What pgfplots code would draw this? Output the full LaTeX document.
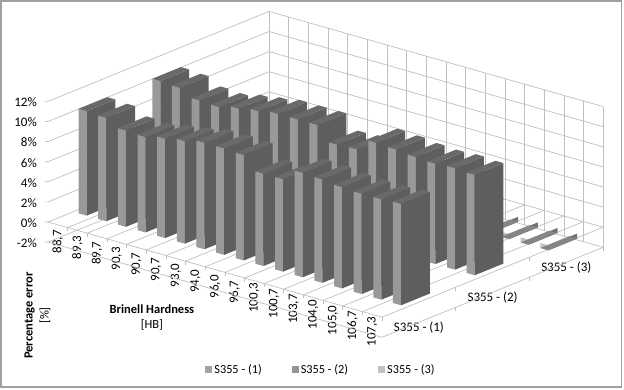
\documentclass[border=0pt]{standalone}
\usepackage{fontspec}
\setmainfont{Carlito}
\usepackage{pgfplots}
\usepackage{pgfplotstable}
\pgfplotsset{compat=1.18}
\definecolor{gridc}{gray}{0.75}
\definecolor{frontA}{gray}{0.60}
\definecolor{sideA}{gray}{0.37}
\definecolor{topA}{gray}{0.41}
\definecolor{frontC}{gray}{0.76}
\definecolor{sideC}{gray}{0.45}
\definecolor{topC}{gray}{0.52}
\definecolor{legA}{gray}{0.64}
\definecolor{legB}{gray}{0.59}
\definecolor{legC}{gray}{0.76}
\pgfplotstableread{
s1 s2 s3
10.4 10.4 -0.5
10.3 10.3 -0.5
9.6 9.6 -0.5
9.5 9.5 -0.5
9.9 9.9 -0.5
10.2 10.2 -0.5
10.6 10.5 -0.5
10.6 10.5 -0.5
10.5 10.5 -0.5
9.2 9.1 -0.5
9.2 9.2 -0.5
10.4 10.4 -0.5
10.3 10.3 -0.5
10.1 10.1 -0.5
10.0 10.0 -0.5
10.0 10.1 -0.5
10.1 10.0 -0.5
}\hardnessdata
\newcommand\barbox[6]{% u, v, value, front, side, top
  \pgfmathsetmacro\ua{#1+0.28}\pgfmathsetmacro\ub{#1+0.69}%
  \pgfmathsetmacro\va{#2+0.34}\pgfmathsetmacro\vb{#2+0.73}%
  \edef\temp{\noexpand\addplot3[fill=#4,draw=none,forget plot] coordinates {(\ua,\va,0)(\ub,\va,0)(\ub,\va,#3)(\ua,\va,#3)};
  \noexpand\addplot3[fill=#5,draw=none,forget plot] coordinates {(\ub,\va,0)(\ub,\vb,0)(\ub,\vb,#3)(\ub,\va,#3)};
  \noexpand\addplot3[fill=#6,draw=none,forget plot] coordinates {(\ua,\va,#3)(\ub,\va,#3)(\ub,\vb,#3)(\ua,\vb,#3)};}\temp}
\newcommand\gline[6]{\addplot3[gridc,line width=0.7pt,forget plot] coordinates {(#1,#2,#3)(#4,#5,#6)};}
\begin{document}
\begin{tikzpicture}[x=1pt,y=1pt]
\path[use as bounding box] (0,0) rectangle (624,390);
\draw[gray!75,line width=1.4pt] (1,389) rectangle (621.5,3);
\begin{axis}[
  at={(48pt,168pt)},anchor=origin,
  disabledatascaling,
  x={(19.65pt,-5.6pt)},y={(73.7pt,30pt)},z={(0pt,10.05pt)},
  xmin=0,xmax=17,ymin=0,ymax=3,zmin=-2,zmax=12,
  clip=false,
  axis line style={draw=none},
  tick style={draw=none},
  major tick length=0pt,
  xtick={0.5,1.5,...,16.5},
  xticklabels={{88,7},{89,3},{89,7},{90,3},{90,7},{90,7},{93,0},{94,0},{96,0},{96,7},{100,3},{100,7},{103,7},{104,0},{105,0},{106,7},{107,3}},
  ytick={0.5,1.5,2.5},
  yticklabels={S355 - (1),S355 - (2),S355 - (3)},
  ztick={-2,0,...,12},
  zticklabels={-2\%,0\%,2\%,4\%,6\%,8\%,10\%,12\%},
  tick label style={font=\fontsize{13}{13}\selectfont},
  xticklabel style={rotate=90,anchor=center,inner sep=0pt,xshift=3pt},
  yticklabel style={anchor=center,inner sep=0pt,yshift=-5pt},
  zticklabel style={anchor=east,inner sep=0pt,xshift=-11pt,yshift=-1pt},
  xlabel={\textbf{Brinell Hardness}\\{}[HB]},
  zlabel={\textbf{Percentage error}\\{}[\%]},
  every axis x label/.style={at={(axis cs:5.29,0,-6.59)},anchor=center,align=center,font=\fontsize{12.5}{15}\selectfont},
  every axis z label/.style={at={(axis cs:-0.534,0,-9.6)},anchor=center,align=center,rotate=90,font=\fontsize{12.5}{16}\selectfont},
  legend style={at={(axis cs:13.89,0,-6.92)},anchor=center,draw=none,fill=none,legend columns=3,
    font=\fontsize{12.3}{12}\selectfont,/tikz/every even column/.style={column sep=28pt},
    legend cell align=left},
  legend image code/.code={\path[#1] (0pt,-3.5pt) rectangle (7pt,3.5pt);},
]
% legend samples
\addlegendimage{fill=legA,draw=none}
\addlegendentry{S355 - (1)}
\addlegendimage{fill=legB,draw=none}
\addlegendentry{S355 - (2)}
\addlegendimage{fill=legC,draw=none}
\addlegendentry{S355 - (3)}
% back wall
\foreach \u in {0,...,17}{\edef\t{\noexpand\gline{\u}{3}{-2}{\u}{3}{12}}\t}
\foreach \z in {-2,0,...,12}{%
  \edef\t{\noexpand\gline{0}{3}{\z}{17}{3}{\z}}\t
  \edef\t{\noexpand\gline{0}{0}{\z}{0}{3}{\z}}\t
  \edef\t{\noexpand\addplot3[gridc,line width=0.7pt,forget plot] coordinates {(-0.09,-0.0168,\z)(0,0,\z)};}\t}
% floor and zero plane
\gline{0}{0}{0}{17}{0}{0}
\gline{0}{0}{-2}{17}{0}{-2}
\gline{17}{0}{-2}{17}{3}{-2}
\foreach \u in {1,...,17}{%
  \edef\t{\noexpand\gline{\u}{0}{0}{\u}{3}{0}}\t
  \edef\t{\noexpand\gline{\u}{0}{0}{\u}{0}{-0.35}}\t}
\foreach \v in {1,2,3}{%
  \edef\t{\noexpand\gline{17}{\v}{0}{17}{\v}{-0.35}}\t
  \edef\t{\noexpand\gline{17}{\v}{-2}{17}{\v}{-2.35}}\t}
% bars, back to front
\foreach \i in {0,...,16}{%
  \pgfplotstablegetelem{\i}{s3}\of\hardnessdata
  \edef\t{\noexpand\barbox{\i}{2}{\pgfplotsretval}{frontC}{sideC}{topC}}\t}
\foreach \i in {0,...,16}{%
  \pgfplotstablegetelem{\i}{s2}\of\hardnessdata
  \edef\t{\noexpand\barbox{\i}{1}{\pgfplotsretval}{frontA}{sideA}{topA}}\t}
\foreach \i in {0,...,16}{%
  \pgfplotstablegetelem{\i}{s1}\of\hardnessdata
  \edef\t{\noexpand\barbox{\i}{0}{\pgfplotsretval}{frontA}{sideA}{topA}}\t}
\end{axis}
\end{tikzpicture}
\end{document}
